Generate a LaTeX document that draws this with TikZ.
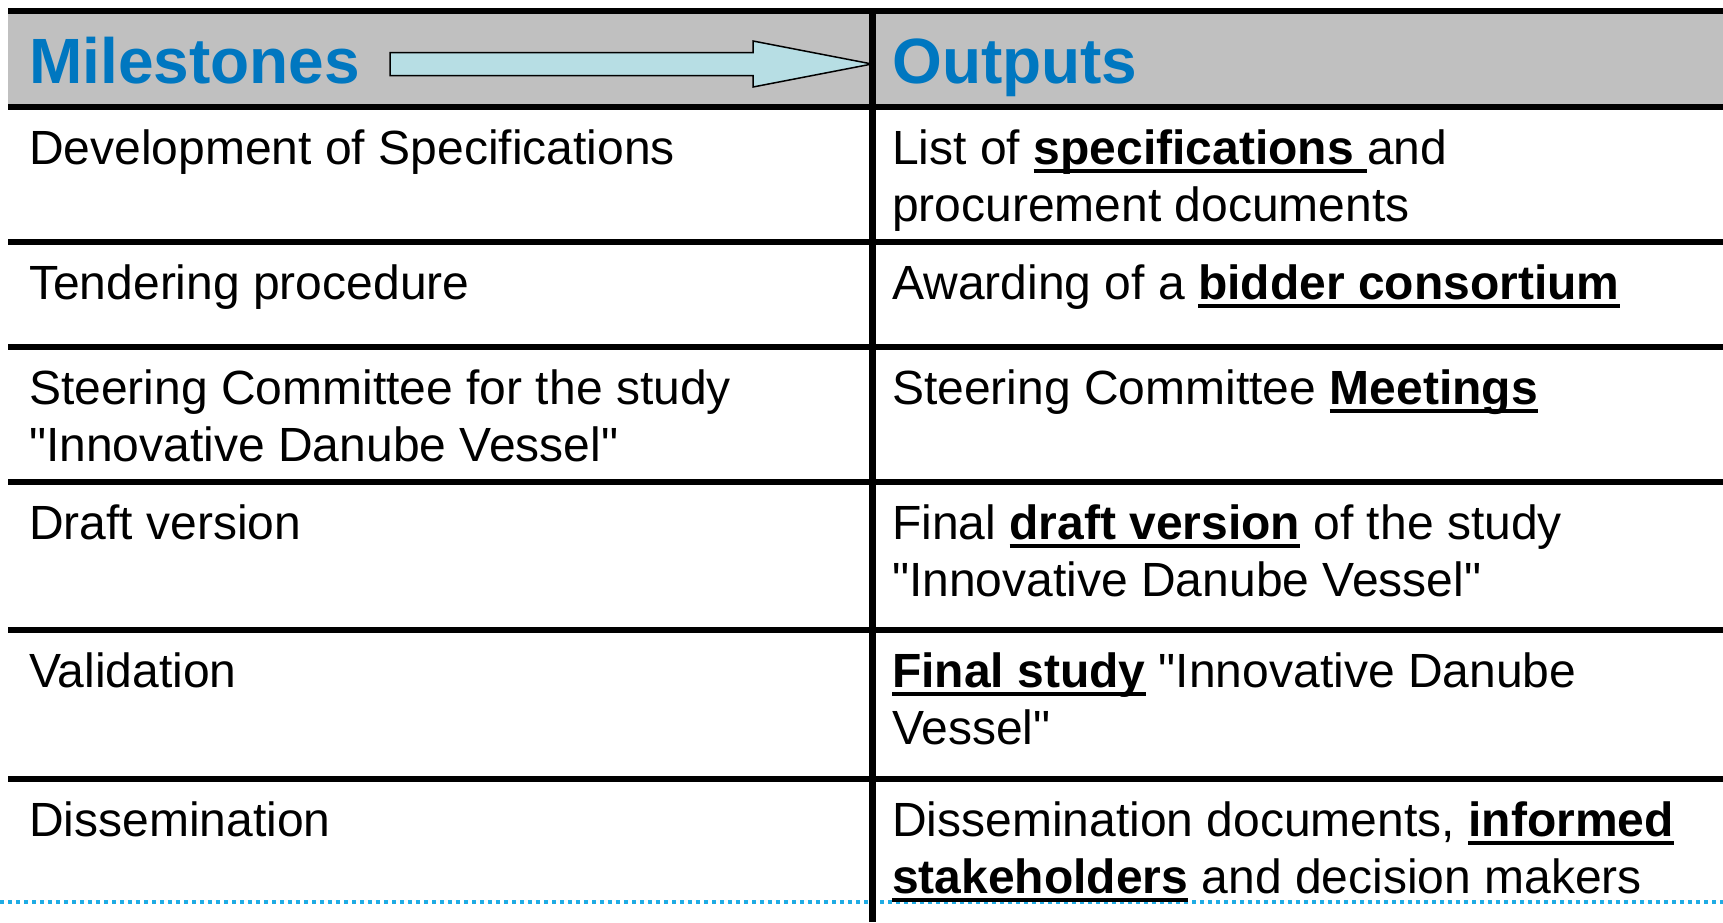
\documentclass[tikz,border=0pt]{standalone}
\usepackage{fontspec}
\setmainfont{Liberation Sans}
\usepackage{xcolor}
\usepackage{tikz}
\usetikzlibrary{calc}
\definecolor{headblue}{RGB}{0, 119, 192}
\definecolor{headgrey}{RGB}{192, 192, 192}
\definecolor{arrowcyan}{RGB}{183, 222, 228}
\definecolor{dotblue}{RGB}{32, 172, 228}

\newsavebox\kwbox
\newcommand\keyword[1]{\leavevmode\sbox\kwbox{\bfseries #1}\rlap{\rule[-9pt]{\wd\kwbox}{4.5pt}}\usebox\kwbox}
\newcommand\celltext[1]{\parbox[t]{820pt}{\raggedright #1}}
\newcommand\qt{\textquotedbl}

\begin{document}
\begin{tikzpicture}[x=1pt, y=-1pt,
    rulebar/.style={line width=6pt},
    cell/.style={anchor=base west, inner sep=0pt, font=\fontsize{48}{57}\selectfont},
    headtext/.style={anchor=base west, inner sep=0pt, text=headblue, font=\fontsize{64}{70}\selectfont\bfseries}]
    \useasboundingbox (0,0) rectangle (1723,922);

    % Header band
    \fill[headgrey] (8,11) rectangle (1723,107);

    % Bottom dotted rule
    \draw[dotblue, line width=4pt, dash pattern=on 4pt off 4pt] (0,902) -- (1723,902);

    % Row rules and column divider
    \foreach \y in {11,107,242,347,482,630,779}
        \draw[rulebar] (8,\y) -- (1723,\y);
    \draw[line width=7pt] (872,8) -- (872,922);

    % Header
    \node[headtext] (ms) at (29,83) {Milestones};
    \node[headtext] (op) at (892,83) {Outputs};
    \coordinate (tail) at (390,64);
    \coordinate (tip) at (872,64);
    \draw[fill=arrowcyan, line width=1.5pt, line join=miter]
        ($(tail)+(0,-11.5)$) -- ($(tip)+(-119,-11.5)$) -- ($(tip)+(-119,-23)$) -- (tip)
        -- ($(tip)+(-119,23)$) -- ($(tip)+(-119,11.5)$) -- ($(tail)+(0,11.5)$) -- cycle;

    % Milestones
    \node[cell] (m1) at (29,164) {\celltext{Development of Specifications}};
    \node[cell] (m2) at (29,299) {\celltext{Tendering procedure}};
    \node[cell] (m3) at (29,404) {\celltext{Steering Committee for the study\\\qt Innovative Danube Vessel\qt}};
    \node[cell] (m4) at (29,539) {\celltext{Draft version}};
    \node[cell] (m5) at (29,687) {\celltext{Validation}};
    \node[cell] (m6) at (29,836) {\celltext{Dissemination}};

    % Outputs
    \node[cell] (o1) at (892,164) {\celltext{List of \keyword{specifications }and\\procurement documents}};
    \node[cell] (o2) at (892,299) {\celltext{Awarding of a \keyword{bidder consortium}}};
    \node[cell] (o3) at (892,404) {\celltext{Steering Committee \keyword{Meetings}}};
    \node[cell] (o4) at (892,539) {\celltext{Final \keyword{draft version} of the study\\\qt Innovative Danube Vessel\qt}};
    \node[cell] (o5) at (892,687) {\celltext{\keyword{Final study} \qt Innovative Danube\\Vessel\qt}};
    \node[cell] (o6) at (892,836) {\celltext{Dissemination documents, \keyword{informed}\\\keyword{stakeholders} and decision makers}};
\end{tikzpicture}
\end{document}
